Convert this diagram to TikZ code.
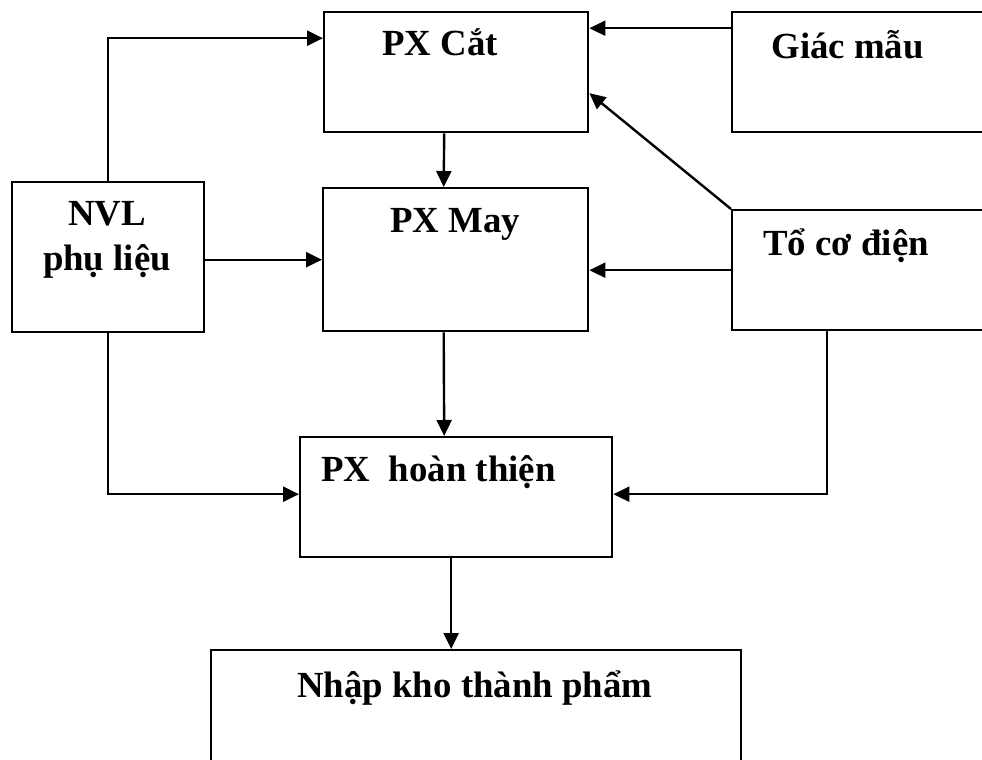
\documentclass[tikz,border=0pt]{standalone}
\usepackage{fontspec}
\setmainfont{Liberation Serif}
\usetikzlibrary{arrows.meta}

\begin{document}
\begin{tikzpicture}[
    x=0.5pt, y=-0.5pt,
    khoi/.style={draw, line width=1.2pt, inner sep=0pt, anchor=north west},
    nhan/.style={inner sep=0pt, anchor=base west, font=\bfseries\fontsize{18.4}{22.5}\selectfont},
    muiten/.style={-{Triangle[length=8pt, width=7.5pt]}, line width=1.2pt}
  ]
    \useasboundingbox (0,0) rectangle (982,760);
    \node[khoi, minimum width=132pt, minimum height=60pt] (cat) at (323,11) {};
    \node[khoi, minimum width=134.5pt, minimum height=60pt] (giac) at (731,11) {};
    \node[khoi, minimum width=96pt, minimum height=75pt] (nvl) at (11,181) {};
    \node[khoi, minimum width=132.5pt, minimum height=71.5pt] (may) at (322,187) {};
    \node[khoi, minimum width=134.5pt, minimum height=60pt] (to) at (731,209) {};
    \node[khoi, minimum width=156pt, minimum height=60pt] (hoan) at (299,436) {};
    \node[khoi, minimum width=265pt, minimum height=70.5pt] (nhap) at (210,649) {};

    \node[nhan] (tcat) at (382,55) {PX Cắt};
    \node[nhan] (tgiac) at (771,58) {Giác mẫu};
    \node[nhan, anchor=base, align=center] (tnvl) at (107,270) {NVL\\phụ liệu};
    \node[nhan] (tmay) at (390,232) {PX May};
    \node[nhan] (tto) at (763,255) {Tổ cơ điện};
    \node[nhan] (thoan) at (321,481) {PX\ \ hoàn thiện};
    \node[nhan] (tnhap) at (297,697) {Nhập kho thành phẩm};

    \draw[muiten] (nvl.north) |- ([yshift=17pt]cat.west);
    \draw[muiten] ([yshift=22pt]giac.west) -- ([yshift=22pt]cat.east);
    \draw[muiten] (to.north west) -- ([yshift=-10.5pt]cat.east);
    \draw[muiten] ([xshift=-6pt]cat.south) -- ([xshift=-6pt]may.north);
    \draw[muiten] ([yshift=-1.25pt]nvl.east) -- (may.west);
    \draw[muiten] (to.west) -- (to.west -| may.east);
    \draw[muiten] ([xshift=-6pt]may.south) -- ([xshift=-6pt]hoan.north);
    \draw[muiten] (nvl.south) |- ([yshift=1.5pt]hoan.west);
    \draw[muiten] ([xshift=48pt]to.south west) |- ([yshift=1.5pt]hoan.east);
    \draw[muiten] ([xshift=-2.5pt]hoan.south) -- ([xshift=-12.5pt]nhap.north);
  \end{tikzpicture}
\end{document}
